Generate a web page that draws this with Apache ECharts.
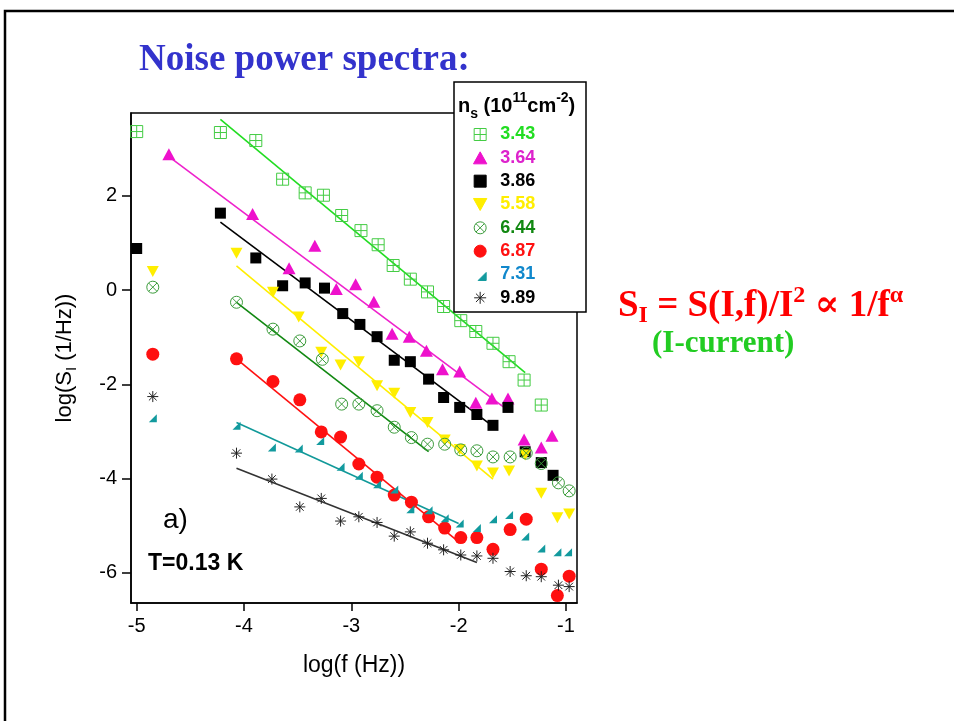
<!DOCTYPE html>
<html><head><meta charset="utf-8">
<script src="https://cdn.jsdelivr.net/npm/echarts@6/dist/echarts.min.js"></script>
<style>html,body{margin:0;padding:0;background:#fff}#c{width:954px;height:721px}</style>
</head><body><div id="c"></div>
<script>
// ---- data ----
const seriesNames = ['3.43','3.64','3.86','5.58','6.44','6.87','7.31','9.89'];

const x343 = [-5.00,-4.22,-3.89,-3.64,-3.43,-3.26,-3.09,-2.91,-2.75,-2.61,-2.45,-2.29,-2.14,-1.98,-1.84,-1.68,-1.53,-1.39,-1.23];
const y343 = [3.36,3.34,3.17,2.35,2.06,2.01,1.58,1.26,0.96,0.52,0.23,-0.04,-0.35,-0.65,-0.88,-1.13,-1.52,-1.91,-2.44];

const x364 = [-4.70,-3.92,-3.58,-3.34,-3.14,-2.96,-2.79,-2.62,-2.46,-2.30,-2.15,-1.99,-1.84,-1.69,-1.54,-1.39,-1.23,-1.13];
const y364 = [2.88,1.61,0.46,0.94,0.02,0.12,-0.25,-0.93,-0.99,-1.29,-1.68,-1.73,-2.39,-2.30,-2.30,-3.17,-3.34,-3.09];

const x386 = [-5.00,-4.22,-3.89,-3.64,-3.43,-3.25,-3.08,-2.92,-2.76,-2.60,-2.45,-2.28,-2.14,-1.99,-1.83,-1.68,-1.54,-1.38,-1.23,-1.12];
const y386 = [0.88,1.63,0.68,0.09,0.15,0.04,-0.50,-0.73,-0.99,-1.49,-1.52,-1.89,-2.28,-2.49,-2.64,-2.87,-2.49,-3.43,-3.66,-3.93];

const x558 = [-4.85,-4.07,-3.73,-3.49,-3.28,-3.10,-2.93,-2.76,-2.60,-2.45,-2.29,-2.13,-1.99,-1.83,-1.68,-1.53,-1.38,-1.23,-1.08,-0.97];
const y558 = [0.39,0.78,-0.05,-0.57,-1.32,-1.59,-1.52,-2.03,-2.19,-2.60,-2.81,-3.18,-3.38,-3.73,-3.88,-3.84,-3.50,-4.31,-4.83,-4.75];

const x644 = [-4.85,-4.07,-3.73,-3.48,-3.27,-3.09,-2.93,-2.76,-2.60,-2.44,-2.29,-2.13,-1.98,-1.83,-1.68,-1.52,-1.37,-1.23,-1.07,-0.97];
const y644 = [0.06,-0.26,-0.83,-1.08,-1.47,-2.42,-2.42,-2.56,-2.91,-3.13,-3.27,-3.27,-3.39,-3.41,-3.54,-3.54,-3.46,-3.68,-4.09,-4.26];

const x687 = [-4.85,-4.07,-3.73,-3.48,-3.28,-3.10,-2.93,-2.76,-2.60,-2.44,-2.28,-2.13,-1.98,-1.83,-1.68,-1.52,-1.37,-1.23,-1.08,-0.97];
const y687 = [-1.36,-1.46,-1.94,-2.33,-3.01,-3.12,-3.69,-3.97,-4.35,-4.50,-4.81,-5.05,-5.25,-5.25,-5.50,-5.08,-4.86,-5.92,-6.48,-6.07];

const x731 = [-4.85,-4.07,-3.74,-3.49,-3.29,-3.10,-2.93,-2.76,-2.60,-2.45,-2.28,-2.13,-1.99,-1.83,-1.68,-1.53,-1.38,-1.23,-1.08,-0.98];
const y731 = [-2.72,-2.88,-3.34,-3.36,-3.20,-3.75,-3.94,-4.12,-4.23,-4.65,-4.67,-4.84,-4.95,-5.05,-4.86,-4.77,-5.23,-5.48,-5.56,-5.56];

const x989 = [-4.85,-4.07,-3.74,-3.48,-3.28,-3.10,-2.93,-2.76,-2.60,-2.45,-2.29,-2.14,-1.98,-1.83,-1.68,-1.52,-1.37,-1.23,-1.07,-0.97];
const y989 = [-2.26,-3.46,-4.01,-4.60,-4.42,-4.90,-4.81,-4.93,-5.22,-5.13,-5.37,-5.51,-5.62,-5.64,-5.69,-5.97,-6.06,-6.08,-6.26,-6.29];

// fitted 1/f^alpha lines: [start, end] in (log f, log S)
const fit343 = [[-4.22, 3.62], [-1.38, -1.75]];
const fit364 = [[-4.70, 2.83], [-1.53, -2.57]];
const fit386 = [[-4.22, 1.44], [-1.67, -2.91]];
const fit558 = [[-4.07, 0.51], [-1.68, -4.01]];
const fit644 = [[-4.07, -0.26], [-2.28, -3.43]];
const fit687 = [[-4.07, -1.46], [-2.00, -5.34]];
const fit731 = [[-4.07, -2.81], [-2.00, -4.95]];
const fit989 = [[-4.07, -3.78], [-1.83, -5.78]];

const xTicks = [-5, -4, -3, -2, -1];
const yTicks = [-6, -4, -2, 0, 2];

// ---- styles ----
const T = 'rgba(0,0,0,0)';
const P = {
  sqx: 'path://M0,0L10,0L10,10L0,10ZM5,0L5,10M0,5L10,5',
  triU: 'path://M5,0L10,9L0,9Z',
  sq: 'path://M0,0L10,0L10,10L0,10Z',
  triD: 'path://M0,0L10,0L5,9Z',
  cx: 'path://M10,5A5,5,0,1,1,0,5A5,5,0,1,1,10,5ZM1.46,1.46L8.54,8.54M8.54,1.46L1.46,8.54',
  corner: 'path://M0,10L10,10L10,0Z',
  star: 'path://M5,0L5,10M0,5L10,5M1.5,1.5L8.5,8.5M8.5,1.5L1.5,8.5'
};
const sets = [
  {x:x343,y:y343,fit:fit343,sym:P.sqx,size:12,fill:T,stroke:'#44cc44',bw:1,text:'#22dd22',line:'#22dd22'},
  {x:x364,y:y364,fit:fit364,sym:P.triU,size:[13,12],fill:'#ee11cc',stroke:'#ee11cc',bw:0,text:'#dd22cc',line:'#ee22cc'},
  {x:x386,y:y386,fit:fit386,sym:P.sq,size:11,fill:'#000',stroke:'#000',bw:0,text:'#000',line:'#000'},
  {x:x558,y:y558,fit:fit558,sym:P.triD,size:[12,11],fill:'#ffee00',stroke:'#ffee00',bw:0,text:'#ffee00',line:'#ffee00'},
  {x:x644,y:y644,fit:fit644,sym:P.cx,size:12,fill:T,stroke:'#3d9d3d',bw:1,text:'#118811',line:'#118811'},
  {x:x687,y:y687,fit:fit687,sym:'circle',size:13,fill:'#ff1010',stroke:'#ff1010',bw:0,text:'#ff1111',line:'#ff1111'},
  {x:x731,y:y731,fit:fit731,sym:P.corner,size:8,fill:'#129a9e',stroke:'#129a9e',bw:0,text:'#1188cc',line:'#119999',
   legendIcon:'path://M0,0M12,12M4,12L12,12L12,4Z'},
  {x:x989,y:y989,fit:fit989,sym:P.star,size:11,fill:T,stroke:'#222',bw:1,text:'#000',line:'#333'}
];

const series = [];
sets.forEach((s, k) => {
  series.push({
    type: 'line', name: seriesNames[k] + ' fit', data: s.fit, symbol: 'none', silent: true,
    lineStyle: {color: s.line, width: 1.6}, itemStyle: {color: s.line}, z: 2, animation: false
  });
});
sets.forEach((s, k) => {
  series.push({
    type: 'scatter', name: seriesNames[k], data: s.x.map((v, i) => [v, s.y[i]]),
    symbol: s.sym, symbolSize: s.size, silent: true,
    itemStyle: {color: s.fill, borderColor: s.stroke, borderWidth: s.bw, opacity: 1},
    z: 3, animation: false
  });
});

const sans = '"Liberation Sans", Arial, Helvetica, sans-serif';
const serif = '"Liberation Serif", "Times New Roman", "DejaVu Serif", serif';

const chart = echarts.init(document.getElementById('c'), null, {renderer: 'canvas'});
chart.setOption({
  animation: false,
  backgroundColor: '#fff',
  grid: {left: 131, top: 113, width: 446, height: 490, show: true, borderColor: '#000', borderWidth: 1.5, backgroundColor: T},
  xAxis: {
    type: 'value', min: -5.053, max: -0.897,
    axisLine: {show: true, onZero: false, lineStyle: {color: '#000', width: 1.5}},
    axisTick: {show: true, length: 8, customValues: xTicks, lineStyle: {color: '#000', width: 1.5}},
    axisLabel: {customValues: xTicks, color: '#000', fontSize: 20, fontFamily: sans, margin: 13},
    splitLine: {show: false},
    name: 'log(f (Hz))', nameLocation: 'middle', nameGap: 51,
    nameTextStyle: {color: '#000', fontSize: 23, fontFamily: sans}
  },
  yAxis: {
    type: 'value', min: -6.638, max: 3.754,
    axisLine: {show: true, onZero: false, lineStyle: {color: '#000', width: 1.5}},
    axisTick: {show: true, length: 9, customValues: yTicks, lineStyle: {color: '#000', width: 1.5}},
    axisLabel: {customValues: yTicks, color: '#000', fontSize: 20, fontFamily: sans, margin: 14},
    splitLine: {show: false},
    name: 'log(S{s|I} (1/Hz))', nameLocation: 'middle', nameGap: 52, nameRotate: 90,
    nameTextStyle: {color: '#000', fontSize: 22, fontFamily: sans, lineHeight: 28,
      rich: {s: {fontSize: 15, fontFamily: sans, color: '#000', verticalAlign: 'bottom', lineHeight: 16}}}
  },
  legend: {
    show: true, orient: 'vertical', left: 473, top: 125.5, itemWidth: 30, itemHeight: 12, itemGap: 5.33,
    padding: 0, selectedMode: false, z: 20,
    itemStyle: {borderWidth: 1},
    textStyle: {fontFamily: sans, fontWeight: 'bold', fontSize: 18},
    data: sets.map((s, k) => {
      const d = {name: seriesNames[k], textStyle: {color: s.text}};
      if (s.legendIcon) d.icon = s.legendIcon;
      return d;
    })
  },
  graphic: [
    {type: 'polyline', z: 1, shape: {points: [[5, 721], [5, 11], [954, 11]]}, style: {stroke: '#000', lineWidth: 2.5, fill: null}},
    {type: 'text', x: 139, y: 60, z: 5, style: {text: 'Noise power spectra:', font: 'bold 37px ' + serif, fill: '#3333cc', align: 'left', verticalAlign: 'middle'}},
    {type: 'rect', z: 10, shape: {x: 454, y: 82, width: 132, height: 230}, style: {fill: '#fff', stroke: '#000', lineWidth: 1.5}},
    {type: 'text', x: 458, y: 106, z: 11, style: {
      text: '{m|n}{s|s}{m| (10}{p|11}{m|cm}{p|-2}{m|)}', align: 'left', verticalAlign: 'middle',
      rich: {
        m: {font: 'bold 20px ' + sans, fill: '#000', lineHeight: 30, verticalAlign: 'middle'},
        s: {font: 'bold 14px ' + sans, fill: '#000', lineHeight: 14, verticalAlign: 'bottom'},
        p: {font: 'bold 14px ' + sans, fill: '#000', lineHeight: 14, verticalAlign: 'top'}
      }}},
    {type: 'text', x: 618, y: 306, z: 5, style: {
      text: '{m|S}{s|I}{m| = S(I,f)/I}{p|2}{m| \u221D 1/f}{p|\u03B1}', align: 'left', verticalAlign: 'middle',
      rich: {
        m: {font: 'bold 37px ' + serif, fill: '#ff0000', lineHeight: 44, verticalAlign: 'middle'},
        s: {font: 'bold 24px ' + serif, fill: '#ff0000', lineHeight: 22, verticalAlign: 'bottom'},
        p: {font: 'bold 24px ' + serif, fill: '#ff0000', lineHeight: 24, verticalAlign: 'top'}
      }}},
    {type: 'text', x: 652, y: 344, z: 5, style: {text: '(I-current)', font: 'bold 31px ' + serif, fill: '#22cc22', align: 'left', verticalAlign: 'middle'}},
    {type: 'text', x: 163, y: 520, z: 5, style: {text: 'a)', font: '28px ' + sans, fill: '#000', align: 'left', verticalAlign: 'middle'}},
    {type: 'text', x: 148, y: 564, z: 5, style: {text: 'T=0.13 K', font: 'bold 23px ' + sans, fill: '#000', align: 'left', verticalAlign: 'middle'}}
  ],
  series: series
});
</script>
</body></html>
